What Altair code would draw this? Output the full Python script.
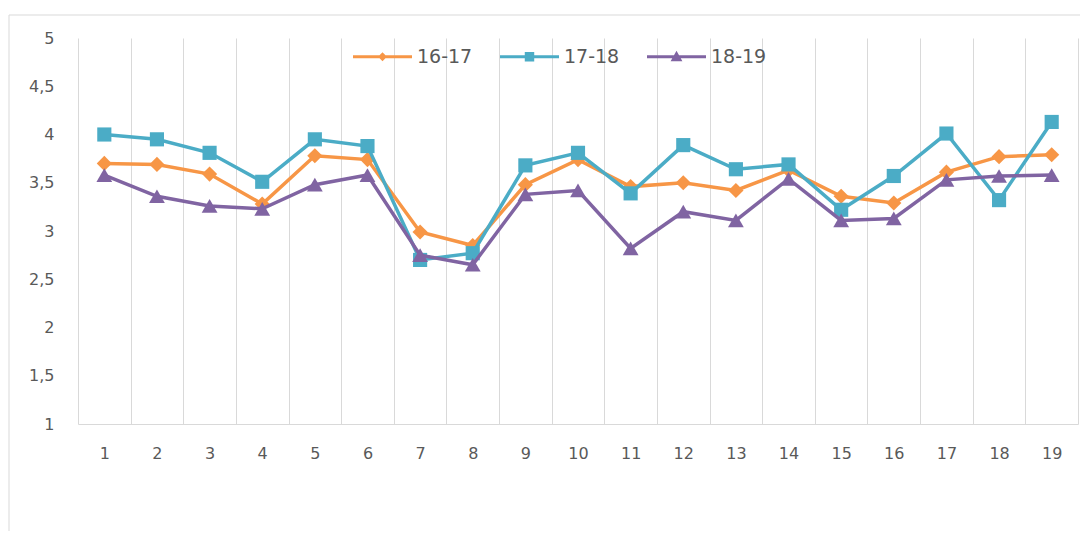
import altair as alt
import pandas as pd

categories = list(range(1, 20))
series_names = ["16-17", "17-18", "18-19"]
values_1617 = [3.70, 3.69, 3.59, 3.28, 3.78, 3.74, 2.99, 2.85, 3.48, 3.74,
               3.46, 3.50, 3.42, 3.63, 3.36, 3.29, 3.61, 3.77, 3.79]
values_1718 = [4.00, 3.95, 3.81, 3.51, 3.95, 3.88, 2.70, 2.77, 3.68, 3.81,
               3.39, 3.89, 3.64, 3.69, 3.22, 3.57, 4.01, 3.32, 4.13]
values_1819 = [3.58, 3.36, 3.26, 3.23, 3.48, 3.58, 2.75, 2.65, 3.38, 3.42,
               2.82, 3.20, 3.11, 3.54, 3.11, 3.13, 3.53, 3.57, 3.58]
y_ticks = [1, 1.5, 2, 2.5, 3, 3.5, 4, 4.5, 5]

colors = ["#F79646", "#4BACC6", "#8064A2"]
shapes = ["diamond", "square", "triangle-up"]
sizes = [230, 200, 250]
legend_paths = [
    "M-1,-0.05L1,-0.05L1,0.05L-1,0.05Z M0,-0.15L0.15,0L0,0.15L-0.15,0Z",
    "M-1,-0.05L1,-0.05L1,0.05L-1,0.05Z M-0.16,-0.16L0.16,-0.16L0.16,0.16L-0.16,0.16Z",
    "M-1,-0.05L1,-0.05L1,0.05L-1,0.05Z M0,-0.2L0.2,0.15L-0.2,0.15Z",
]

rows = []
for name, vals in zip(series_names, [values_1617, values_1718, values_1819]):
    for c, v in zip(categories, vals):
        rows.append({"cat": c, "value": v, "series": name})
df = pd.DataFrame(rows)

FONT = "DejaVu Sans"
TXT = "#595959"
GRID = "#D9D9D9"

x_enc = alt.X(
    "cat:O",
    scale=alt.Scale(type="band", paddingInner=0, paddingOuter=0),
    axis=alt.Axis(
        title=None, labelAngle=0, tickBand="extent", grid=True, gridColor=GRID,
        gridWidth=1, ticks=False, tickSize=0, domain=True, domainColor=GRID,
        domainWidth=1, labelFont=FONT, labelFontSize=16, labelColor=TXT,
        labelPadding=21,
    ),
)
y_enc = alt.Y(
    "value:Q",
    scale=alt.Scale(domain=[1, 5], nice=False, zero=False),
    axis=alt.Axis(
        title=None, values=y_ticks, grid=False, domain=False, ticks=False,
        tickSize=0, labelFont=FONT, labelFontSize=16, labelColor=TXT,
        labelPadding=24,
        labelExpr="replace(format(datum.value, '~g'), '.', ',')",
    ),
)

border = alt.Chart(pd.DataFrame({"k": [0]})).mark_rect(
    fill=None, stroke="#D9D9D9", strokeWidth=1
).encode(
    x=alt.value(-69), y=alt.value(-23), x2=alt.value(1200), y2=alt.value(700)
)

layers = [border]
for name, col, shp, sz in zip(series_names, colors, shapes, sizes):
    base = alt.Chart(df).transform_filter(alt.datum.series == name)
    layers.append(base.mark_line(color=col, strokeWidth=3.5).encode(x=x_enc, y=y_enc))
    layers.append(
        base.mark_point(shape=shp, filled=True, size=sz, color=col, opacity=1)
        .encode(x=x_enc, y=y_enc)
    )

legend = alt.Legend(
    title=None, orient="none", direction="horizontal", legendX=275, legendY=-11,
    symbolSize=3481, symbolStrokeWidth=0, symbolOpacity=1, labelOffset=5,
    columnPadding=27, labelFont=FONT, labelFontSize=19, labelColor=TXT,
)
legend_layer = alt.Chart(df).mark_point(filled=True, opacity=0).encode(
    x=x_enc, y=y_enc,
    color=alt.Color("series:N", scale=alt.Scale(domain=series_names, range=colors), legend=legend),
    shape=alt.Shape("series:N", scale=alt.Scale(domain=series_names, range=legend_paths), legend=legend),
)
layers.append(legend_layer)

chart = alt.layer(*layers).properties(
    width=1000, height=386,
    padding={"left": 70, "top": 30, "right": 2, "bottom": 107},
    autosize=alt.AutoSizeParams(type="none"),
).configure_view(stroke=None)

chart.save("out.html", embed_options={"renderer": "svg", "actions": False})
